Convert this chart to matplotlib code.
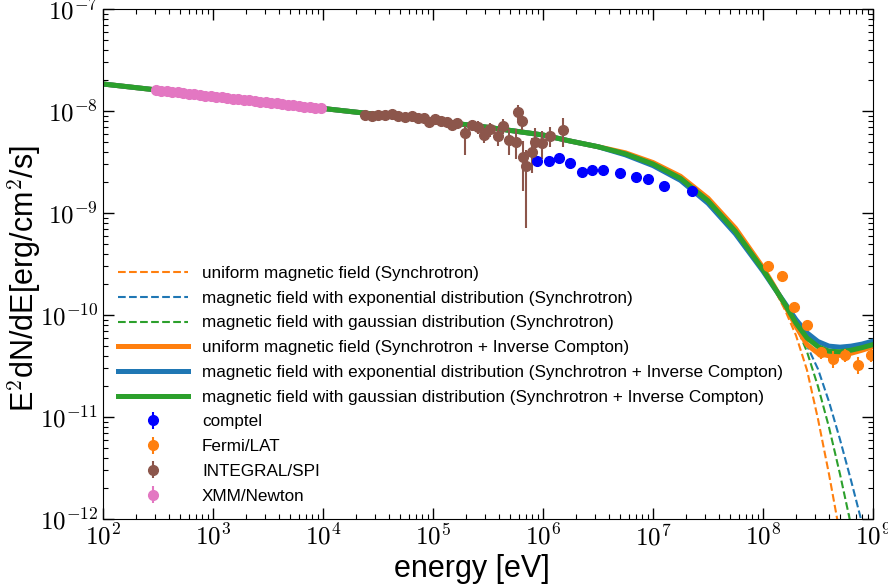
import numpy as np
import matplotlib
matplotlib.use('Agg')
import matplotlib.pyplot as plt
from matplotlib.ticker import LogLocator, NullFormatter, FuncFormatter

plt.rcParams['font.family'] = ['Liberation Sans', 'DejaVu Sans']
plt.rcParams['mathtext.fontset'] = 'cm'

# model curves (log10 energy / log10 flux)
log_e_model = [2.0, 2.5, 3.0, 3.5, 4.0, 4.5, 5.0, 5.5, 6.0, 6.25, 6.5, 6.75, 7.0, 7.25,
               7.5, 7.75, 8.0, 8.1, 8.2, 8.3, 8.4, 8.5, 8.6, 8.7, 8.8, 8.9, 9.0]

log_f_uni_sync = [-7.735, -7.795, -7.855, -7.915, -7.975, -8.035, -8.095, -8.160, -8.235, -8.295,
                  -8.350, -8.410, -8.505, -8.640, -8.855, -9.150, -9.535, -9.740, -9.950, -10.200,
                  -10.540, -11.020, -11.560, -12.150, -12.800, -13.500, -14.300]
log_f_exp_sync = [-7.735, -7.795, -7.855, -7.915, -7.975, -8.035, -8.095, -8.160, -8.235, -8.295,
                  -8.350, -8.430, -8.535, -8.680, -8.905, -9.205, -9.570, -9.730, -9.890, -10.080,
                  -10.300, -10.530, -10.850, -11.220, -11.620, -12.040, -12.500]
log_f_gau_sync = [-7.735, -7.795, -7.855, -7.915, -7.975, -8.035, -8.095, -8.160, -8.235, -8.295,
                  -8.350, -8.420, -8.520, -8.660, -8.880, -9.180, -9.555, -9.725, -9.900, -10.100,
                  -10.360, -10.700, -11.100, -11.560, -12.060, -12.600, -13.200]

log_f_uni_ssc = [-7.735, -7.795, -7.855, -7.915, -7.975, -8.035, -8.095, -8.160, -8.235, -8.295,
                 -8.350, -8.410, -8.505, -8.640, -8.855, -9.150, -9.535, -9.715, -9.905, -10.110,
                 -10.290, -10.375, -10.400, -10.395, -10.375, -10.345, -10.310]
log_f_exp_ssc = [-7.735, -7.795, -7.855, -7.915, -7.975, -8.035, -8.095, -8.160, -8.235, -8.295,
                 -8.350, -8.430, -8.535, -8.680, -8.905, -9.205, -9.570, -9.730, -9.885, -10.045,
                 -10.175, -10.260, -10.305, -10.315, -10.305, -10.285, -10.255]
log_f_gau_ssc = [-7.735, -7.795, -7.855, -7.915, -7.975, -8.035, -8.095, -8.160, -8.235, -8.295,
                 -8.350, -8.420, -8.520, -8.660, -8.880, -9.180, -9.555, -9.725, -9.895, -10.080,
                 -10.225, -10.310, -10.355, -10.360, -10.345, -10.320, -10.290]

# comptel
e_comptel = [8.81e5, 1.135e6, 1.39e6, 1.76e6, 2.26e6, 2.77e6, 3.51e6, 5.01e6, 7.05e6, 9.06e6,
             1.26e7, 2.26e7]
f_comptel = [3.24e-9, 3.24e-9, 3.46e-9, 3.07e-9, 2.51e-9, 2.66e-9, 2.62e-9, 2.48e-9, 2.25e-9,
             2.15e-9, 1.85e-9, 1.66e-9]
err_comptel = [1.0e-10, 1.0e-10, 1.0e-10, 1.0e-10, 1.0e-10, 1.0e-10, 1.0e-10, 1.0e-10, 1.0e-10,
               1.0e-10, 1.0e-10, 1.0e-10]

# Fermi/LAT
e_fermi = [1.12e8, 1.48e8, 1.91e8, 2.53e8, 3.35e8, 4.31e8, 5.56e8, 7.35e8, 9.53e8]
f_fermi = [3.02e-10, 2.41e-10, 1.19e-10, 7.98e-11, 4.31e-11, 3.71e-11, 4.06e-11, 3.24e-11, 4.06e-11]
err_fermi = [1.0e-11, 1.0e-11, 1.0e-11, 8.0e-12, 6.0e-12, 7.0e-12, 6.0e-12, 6.0e-12, 6.0e-12]

# INTEGRAL/SPI
e_integral = [2.41e4, 2.77e4, 3.18e4, 3.66e4, 4.22e4, 4.84e4, 5.56e4, 6.40e4, 7.35e4, 8.28e4,
              9.25e4, 1.04e5, 1.17e5, 1.33e5, 1.48e5, 1.66e5, 1.95e5, 2.25e5, 2.58e5, 2.91e5,
              3.30e5, 3.87e5, 4.31e5, 4.94e5, 5.89e5, 6.40e5, 5.69e5, 6.62e5, 7.00e5, 7.89e5,
              8.45e5, 9.72e5, 1.16e6, 1.51e6]
f_integral = [9.14e-9, 8.99e-9, 9.14e-9, 9.20e-9, 9.29e-9, 8.99e-9, 8.67e-9, 8.93e-9, 8.59e-9, 8.53e-9,
              7.80e-9, 8.30e-9, 8.04e-9, 7.80e-9, 7.29e-9, 7.57e-9, 6.12e-9, 7.29e-9, 6.92e-9, 5.82e-9,
              6.62e-9, 5.69e-9, 7.13e-9, 5.20e-9, 9.84e-9, 8.04e-9, 5.00e-9, 3.56e-9, 2.89e-9, 3.99e-9,
              5.00e-9, 4.89e-9, 5.73e-9, 6.52e-9]
err_lo_integral = [5e-10, 5e-10, 5e-10, 5e-10, 5e-10, 5e-10, 5e-10, 5e-10, 5e-10, 5e-10,
                   6e-10, 6e-10, 6e-10, 6e-10, 7e-10, 7e-10, 2.4e-9, 8e-10, 1.0e-9, 1.0e-9,
                   1.0e-9, 1.2e-9, 1.2e-9, 1.5e-9, 1.6e-9, 1.5e-9, 1.6e-9, 1.9e-9, 2.18e-9, 1.5e-9,
                   1.8e-9, 1.5e-9, 1.3e-9, 2.1e-9]
err_hi_integral = [5e-10, 5e-10, 5e-10, 5e-10, 5e-10, 5e-10, 5e-10, 5e-10, 5e-10, 5e-10,
                   6e-10, 6e-10, 6e-10, 6e-10, 7e-10, 7e-10, 1.0e-9, 8e-10, 1.0e-9, 1.0e-9,
                   1.0e-9, 1.2e-9, 1.2e-9, 1.5e-9, 1.6e-9, 1.5e-9, 1.6e-9, 1.5e-9, 1.26e-9, 1.5e-9,
                   1.8e-9, 1.5e-9, 1.3e-9, 2.0e-9]

# XMM/Newton
e_xmm = [302, 339, 380, 427, 479, 537, 603, 676, 759, 851, 955, 1072, 1202, 1349, 1514, 1698,
         1905, 2138, 2399, 2692, 3020, 3388, 3802, 4266, 4786, 5370, 6026, 6761, 7586, 8511, 9550]
f_xmm = [1.607e-8, 1.585e-8, 1.563e-8, 1.542e-8, 1.521e-8, 1.500e-8, 1.479e-8, 1.459e-8,
         1.439e-8, 1.419e-8, 1.400e-8, 1.380e-8, 1.361e-8, 1.343e-8, 1.324e-8, 1.306e-8,
         1.288e-8, 1.271e-8, 1.253e-8, 1.236e-8, 1.219e-8, 1.202e-8, 1.186e-8, 1.170e-8,
         1.154e-8, 1.138e-8, 1.122e-8, 1.107e-8, 1.092e-8, 1.077e-8, 1.062e-8]
err_xmm = [2e-10] * len(e_xmm)

E = 10 ** np.array(log_e_model)

fig = plt.figure(figsize=(8.88, 5.86), dpi=100)
ax = fig.add_axes([0.116, 0.1143, 0.8671, 0.8703])

ax.plot(E, 10 ** np.array(log_f_uni_sync), '--', color='tab:orange', lw=1.5,
        label='uniform magnetic field (Synchrotron)')
ax.plot(E, 10 ** np.array(log_f_exp_sync), '--', color='tab:blue', lw=1.5,
        label='magnetic field with exponential distribution (Synchrotron)')
ax.plot(E, 10 ** np.array(log_f_gau_sync), '--', color='tab:green', lw=1.5,
        label='magnetic field with gaussian distribution (Synchrotron)')
ax.plot(E, 10 ** np.array(log_f_uni_ssc), '-', color='tab:orange', lw=3.6,
        label='uniform magnetic field (Synchrotron + Inverse Compton)')
ax.plot(E, 10 ** np.array(log_f_exp_ssc), '-', color='tab:blue', lw=3.6,
        label='magnetic field with exponential distribution (Synchrotron + Inverse Compton)')
ax.plot(E, 10 ** np.array(log_f_gau_ssc), '-', color='tab:green', lw=3.6,
        label='magnetic field with gaussian distribution (Synchrotron + Inverse Compton)')

ax.errorbar(e_comptel, f_comptel, yerr=err_comptel, fmt='o', color='blue', ms=7,
            elinewidth=1.5, label='comptel')
ax.errorbar(e_fermi, f_fermi, yerr=err_fermi, fmt='o', color='tab:orange', ms=7,
            elinewidth=1.5, label='Fermi/LAT')
ax.errorbar(e_integral, f_integral, yerr=[err_lo_integral, err_hi_integral], fmt='o',
            color='tab:brown', ms=7, elinewidth=1.5, label='INTEGRAL/SPI')
ax.errorbar(e_xmm, f_xmm, yerr=err_xmm, fmt='o', color='tab:pink', ms=7,
            elinewidth=1.5, label='XMM/Newton')

ax.set_xscale('log')
ax.set_yscale('log')
ax.set_xlim(1e2, 1e9)
ax.set_ylim(1e-12, 1e-7)
pow10 = FuncFormatter(lambda v, pos: r'$10^{%d}$' % int(round(np.log10(v))))
ax.xaxis.set_major_locator(LogLocator(base=10, numticks=20))
ax.xaxis.set_major_formatter(pow10)
ax.yaxis.set_major_formatter(pow10)
ax.xaxis.set_minor_locator(LogLocator(base=10, subs=np.arange(2, 10), numticks=100))
ax.xaxis.set_minor_formatter(NullFormatter())
ax.yaxis.set_minor_locator(LogLocator(base=10, subs=np.arange(2, 10), numticks=100))
ax.yaxis.set_minor_formatter(NullFormatter())
ax.tick_params(which='both', direction='in', top=True, right=True, labelsize=18)
ax.tick_params(which='major', length=8, width=1)
ax.tick_params(which='minor', length=3.5, width=0.8)

ax.set_xlabel('energy [eV]', fontsize=22)
ax.set_ylabel('E$^2$dN/dE[erg/cm$^2$/s]', fontsize=22)
ax.xaxis.set_label_coords(0.479, -0.069)
ax.yaxis.set_label_coords(-0.078, 0.472)

ax.legend(loc='lower left', frameon=False, fontsize=12.3, handlelength=4.1,
          labelspacing=0.57)

fig.savefig('out.png', dpi=100)
